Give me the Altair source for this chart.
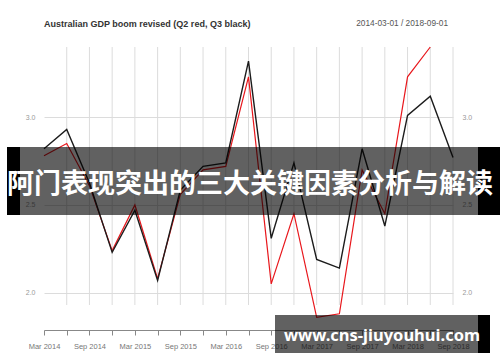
import altair as alt
import pandas as pd

# ---- data ----
quarters = ["Mar 2014", "Jun 2014", "Sep 2014", "Dec 2014", "Mar 2015", "Jun 2015",
            "Sep 2015", "Dec 2015", "Mar 2016", "Jun 2016", "Sep 2016", "Dec 2016",
            "Mar 2017", "Jun 2017", "Sep 2017", "Dec 2017", "Mar 2018", "Jun 2018",
            "Sep 2018"]
q3_black = [2.82, 2.93, 2.625, 2.23, 2.47, 2.07, 2.585, 2.72, 2.74, 3.32, 2.31, 2.74,
            2.19, 2.14, 2.82, 2.38, 3.01, 3.12, 2.77]
q2_red = [2.78, 2.85, 2.61, 2.24, 2.50, 2.08, 2.56, 2.70, 2.72, 3.23, 2.05, 2.45,
          1.86, 1.88, 2.70, 2.45, 3.23, 3.40]
y_ticks = [2.0, 2.5, 3.0]
title_text = "Australian GDP boom revised (Q2 red, Q3 black)"
range_text = "2014-03-01 / 2018-09-01"
banner_text = "阿门表现突出的三大关键因素分析与解读"
url_text = "www.cns-jiuyouhui.com"

df_black = pd.DataFrame({"quarter": quarters, "value": q3_black})
df_red = pd.DataFrame({"quarter": quarters[:len(q2_red)], "value": q2_red})
df_grid = pd.DataFrame({"quarter": quarters[1:]})
one = pd.DataFrame({"k": [0]})

FONT = "Liberation Sans"

x_axis = alt.Axis(
    title=None, offset=25, grid=False, labelAngle=0, labelOverlap=False,
    labelExpr="(slice(datum.label,0,3)=='Mar' || slice(datum.label,0,3)=='Sep') ? datum.label : ''",
    domainColor="#888888", tickColor="#888888", tickSize=5,
    labelColor="#777777", labelFontSize=7.5, labelFont=FONT, labelPadding=7,
)
X = alt.X("quarter:O", sort=quarters,
          scale=alt.Scale(domain=quarters, type="point", padding=0),
          axis=x_axis)
y_scale = alt.Scale(domain=[1.93, 3.40], nice=False, zero=False)

grid = alt.Chart(df_grid).mark_rule(color="#dcdcdc", strokeWidth=1).encode(x=X)

red = alt.Chart(df_red).mark_line(color="#e8171c", strokeWidth=1.2).encode(
    x=X,
    y=alt.Y("value:Q", scale=y_scale,
            axis=alt.Axis(title=None, orient="right", values=y_ticks, format=".1f",
                          grid=False, domain=False, ticks=False, labelPadding=9,
                          labelColor="#999999", labelFontSize=7, labelFont=FONT)),
)
black = alt.Chart(df_black).mark_line(color="#1c1c1c", strokeWidth=1.4).encode(
    x=X,
    y=alt.Y("value:Q", scale=y_scale,
            axis=alt.Axis(title=None, orient="left", values=y_ticks, format=".1f",
                          grid=True, gridColor="#dcdcdc", domain=False, ticks=False,
                          labelPadding=9, labelColor="#999999", labelFontSize=7,
                          labelFont=FONT)),
)

title = alt.Chart(one).mark_text(align="left", baseline="middle", font=FONT,
                                 fontSize=9, fontWeight="bold", color="#333333").encode(
    x=alt.value(0), y=alt.value(-23), text=alt.value(title_text))
rng = alt.Chart(one).mark_text(align="right", baseline="middle", font=FONT,
                               fontSize=8.3, color="#555555").encode(
    x=alt.value(404), y=alt.value(-23), text=alt.value(range_text))

def rect(x1, x2, y1, y2, color, opacity):
    return alt.Chart(one).mark_rect(color=color, opacity=opacity).encode(
        x=alt.value(x1), x2=alt.value(x2), y=alt.value(y1), y2=alt.value(y2))

top_banner = (rect(-37, -24, 100, 168, "#000000", 1)
              + rect(-24, 434, 100, 168, "#000000", 0.62)
              + rect(434, 456, 100, 168, "#000000", 1))
top_txt = alt.Chart(one).mark_text(align="center", baseline="middle",
                                   font="Noto Sans CJK SC", fontSize=27,
                                   fontWeight="bold", color="#ffffff").encode(
    x=alt.value(206), y=alt.value(138), text=alt.value(banner_text))

bot_banner = (rect(231, 434, 268, 306, "#000000", 0.62)
              + rect(434, 446, 268, 306, "#000000", 1))
bot_txt = alt.Chart(one).mark_text(align="center", baseline="middle",
                                   font="Noto Sans", fontSize=16.5,
                                   fontWeight="bold", color="#ffffff").encode(
    x=alt.value(338), y=alt.value(289), text=alt.value(url_text))

chart = alt.layer(
    grid, red, black, title, rng, top_banner, top_txt, bot_banner, bot_txt
).resolve_axis(y="independent").properties(
    width=409, height=258,
    autosize=alt.AutoSizeParams(type="none"),
    padding={"left": 44, "top": 47, "right": 47, "bottom": 57},
    background="white",
).configure_view(stroke=None)

chart.save("out.html", embed_options={"renderer": "svg", "actions": False})
